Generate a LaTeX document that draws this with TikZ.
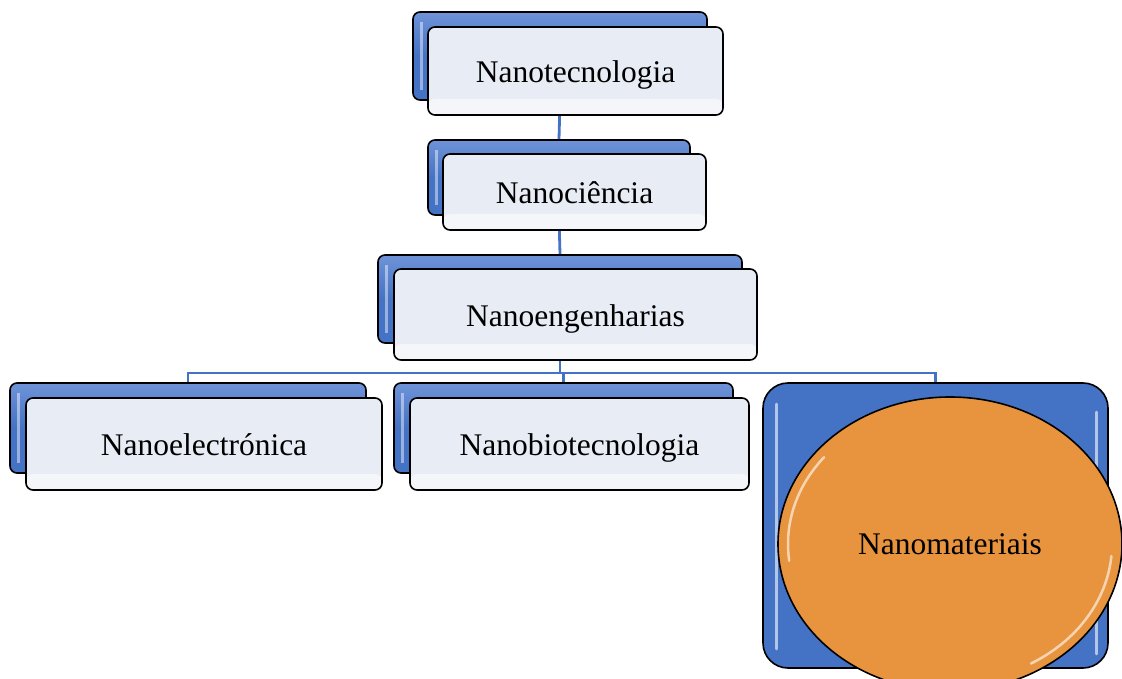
\documentclass[tikz,border=0pt]{standalone}
\usepackage{fontspec}
\setmainfont{Liberation Serif}
\usetikzlibrary{shapes.geometric,positioning}
\pgfdeclarelayer{background}
\pgfsetlayers{background,main}
\definecolor{nanoblue}{HTML}{4472C4}
\definecolor{nanolight}{HTML}{6F93D8}
\definecolor{nanoface}{HTML}{E8ECF4}
\definecolor{nanoorange}{HTML}{E8943F}

\begin{document}
\begin{tikzpicture}[x=1pt,y=-1pt,
    backbox/.style={draw=black,line width=1.6pt,rounded corners=7pt,top color=nanolight,bottom color=nanoblue,middle color=nanoblue,inner sep=0pt,
      path picture={\draw[white,opacity=0.45,line width=3pt] ([xshift=8pt,yshift=10pt]path picture bounding box.south west) -- ([xshift=8pt,yshift=-10pt]path picture bounding box.north west);}},
    frontbox/.style={draw=black,line width=1.6pt,rounded corners=7pt,fill=nanoface,inner sep=0pt,
      text height=25pt,text depth=2pt,font=\fontsize{31.5}{36}\selectfont,
      path picture={\fill[white,opacity=0.55] ([yshift=16pt]path picture bounding box.south west) rectangle (path picture bounding box.south east);}},
    link/.style={nanoblue,line width=2.8pt}]
      \clip (0,0) rectangle (1122,679);

      % back and front plates
      \node[backbox,minimum width=294pt,minimum height=88pt] (tecB) at (560,56) {};
      \node[frontbox,minimum width=295pt,minimum height=88pt] (tec) at (575.5,71) {Nanotecnologia};

      \node[backbox,minimum width=262pt,minimum height=75pt] (cieB) at (559,177.5) {};
      \node[frontbox,minimum width=263pt,minimum height=76pt] (cie) at (574.5,192) {Nanociência};

      \node[backbox,minimum width=364pt,minimum height=88pt] (engB) at (560,299) {};
      \node[frontbox,minimum width=363pt,minimum height=91pt] (eng) at (575.5,314.5) {Nanoengenharias};

      \node[backbox,minimum width=356pt,minimum height=90pt] (eleB) at (188,428) {};
      \node[frontbox,minimum width=356pt,minimum height=92pt] (ele) at (204,444) {Nanoelectrónica};

      \node[backbox,minimum width=339pt,minimum height=90pt] (bioB) at (563.5,428) {};
      \node[frontbox,minimum width=339pt,minimum height=92pt] (bio) at (579.5,444) {Nanobiotecnologia};

      \node[draw=black,line width=1.6pt,rounded corners=25pt,fill=nanoblue,minimum width=345pt,minimum height=285pt] (matB) at (935.5,525.5) {};
      \draw[white,opacity=0.6,line width=3pt,line cap=round] ([xshift=14pt,yshift=-22pt]matB.north west) -- ([xshift=14pt,yshift=20pt]matB.south west);
      \draw[white,opacity=0.6,line width=3pt,line cap=round] ([xshift=-12pt,yshift=-30pt]matB.north east) -- ([xshift=-12pt,yshift=15pt]matB.south east);

      \node[ellipse,draw=black,line width=1.6pt,fill=nanoorange,minimum width=344pt,minimum height=294pt,inner sep=0pt,
        font=\fontsize{31.5}{36}\selectfont] (mat) at (950,544) {Nanomateriais};
      \draw[white,opacity=0.6,line width=2.5pt,line cap=round] (mat.center) ++(219:162 and 138) arc[start angle=219,end angle=173,x radius=162,y radius=138];
      \draw[white,opacity=0.6,line width=2.5pt,line cap=round] (mat.center) ++(5:162 and 138) arc[start angle=5,end angle=60,x radius=162,y radius=138];

      % connectors
      \begin{pgfonlayer}{background}
        \draw[link] (tecB.south) -- (cieB.north);
        \draw[link] (cieB.south) -- (engB.north);
        \coordinate (fork) at (560,373);
        \draw[link] (engB.south) -- (fork);
        \draw[link] (fork) -| (eleB.north);
        \draw[link] (fork) -| (bioB.north);
        \draw[link] (fork) -| (matB.north);
      \end{pgfonlayer}
    \end{tikzpicture}
\end{document}
